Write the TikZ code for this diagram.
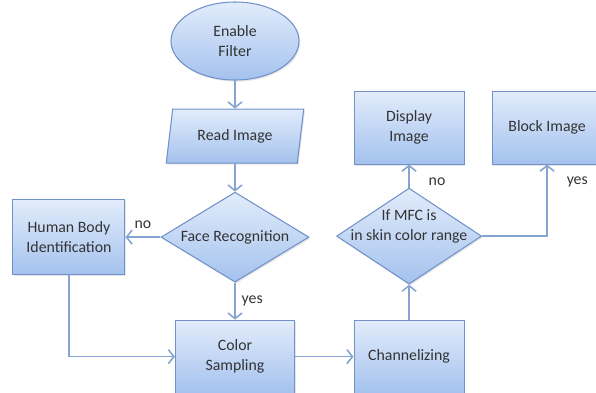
\documentclass[tikz,border=0pt]{standalone}
\usepackage{fontspec}
\setmainfont{Carlito}
\usepackage{xcolor}
\usetikzlibrary{shapes.geometric,arrows.meta,positioning,shadows}

\definecolor{boxtop}{RGB}{226,236,251}
\definecolor{boxbot}{RGB}{164,194,238}
\definecolor{boxline}{RGB}{112,146,200}
\definecolor{flowline}{RGB}{134,164,208}

\begin{document}
\begin{tikzpicture}[
    font=\fontsize{9}{11.3}\selectfont,
    shade_fill/.style={draw=boxline, line width=0.6pt, top color=boxtop, bottom color=boxbot, text=black!80, align=center,
        drop shadow={opacity=0.2, shadow xshift=0.7pt, shadow yshift=-0.9pt}},
    startstop/.style={shade_fill, ellipse, minimum width=2.56cm, minimum height=1.56cm, inner sep=0pt},
    io/.style={shade_fill, trapezium, trapezium left angle=80, trapezium right angle=100, trapezium stretches=true, minimum width=2.76cm, minimum height=1.08cm},
    process/.style={shade_fill, rectangle, minimum width=2.2cm, minimum height=1.46cm},
    decision/.style={shade_fill, diamond, inner sep=0pt, aspect=1.64, minimum width=2.96cm, minimum height=1.8cm},
    arrow/.style={-{Straight Barb[length=3.2pt, width=8pt]}, draw=flowline, line width=0.9pt},
    tag/.style={text=black!80}
]
    \useasboundingbox (0,0) rectangle (11.92,7.84);

    % Main column
    \node [startstop] (filter) at (4.70,7.02) {Enable\\Filter};
    \node [io, below=0.56cm of filter] (read) {Read Image};
    \node [decision, below=0.56cm of read] (face) {Face Recognition};
    \node [process, left=0.7cm of face, minimum width=2.24cm, minimum height=1.5cm] (human) {Human Body\\Identification};
    \node [process, below=0.74cm of face, minimum width=2.38cm] (color) {Color\\Sampling};

    % Right part
    \node [process, right=1.17cm of color] (chan) {Channelizing};
    \node [decision, above=0.7cm of chan, aspect=1.51, minimum width=2.9cm, minimum height=1.92cm,
        label={[tag, align=center, yshift=5.5pt]center:If MFC is\\in skin color range}] (mfc) {};
    \node [process, above=0.46cm of mfc] (display) {Display\\Image};
    \node [process, right=0.54cm of display, minimum width=2.2cm] (block) {Block Image};

    % Connections
    \draw [arrow] (filter) -- (read);
    \draw [arrow] (read) -- (face);
    \draw [arrow] (face) -- node[tag, above=1pt] {no} (human);
    \draw [arrow] (face) -- node[tag, right] {yes} (color);
    \draw [arrow] (human.south) |- (color.west);
    \draw [arrow] (color) -- (chan);
    \draw [arrow] (chan) -- (mfc);
    \draw [arrow] (mfc) -- node[tag, right=0.26cm, pos=0.26] {no} (display);
    \draw [arrow] (mfc.east) -| node[tag, right=0.26cm, pos=0.88] {yes} (block.south);

\end{tikzpicture}
\end{document}
